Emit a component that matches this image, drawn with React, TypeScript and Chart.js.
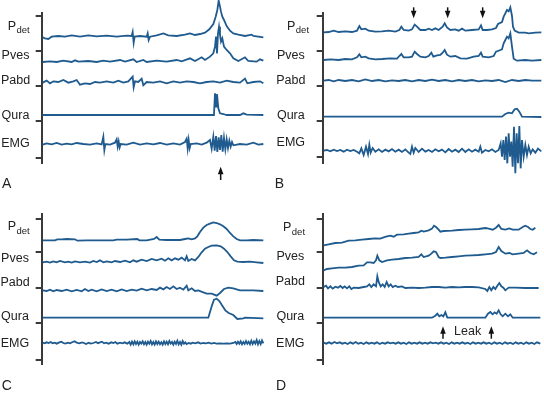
import React, { useEffect, useRef } from "react";
import { Chart, registerables } from "chart.js";
Chart.register(...registerables);

type Pt = [number, number];

// ---------- DATA (x = time units, y = deflection from each trace's resting level) ----------
const TRACE_NAMES = ["Pdet", "Pves", "Pabd", "Qura", "EMG"];

// Panel A
const A_PDET: Pt[] = [[128,-2],[135,-5],[145,-7],[155,0],[175,2],[195,0],[215,4],[240,0],[265,4],[290,1],[320,3],[350,0],[380,3],[395,2],[398,14],[401,-18],[404,0],[420,2],[440,0],[443,10],[446,-10],[450,0],[470,4],[490,10],[505,4],[530,2],[555,6],[570,10],[585,5],[600,8],[615,12],[628,22],[640,38],[647,60],[652,80],[656,108],[660,90],[663,75],[667,60],[672,50],[680,32],[690,18],[700,10],[715,6],[735,2],[755,6],[760,2],[775,0],[790,-2]];
const A_PVES: Pt[] = [[128,-1],[150,1],[170,-1],[190,3],[215,-1],[225,4],[235,0],[265,2],[290,-1],[310,3],[330,0],[360,5],[375,0],[400,7],[410,-1],[430,5],[440,-1],[470,3],[500,0],[530,5],[545,1],[570,10],[585,2],[605,13],[615,5],[630,15],[640,25],[645,45],[648,75],[651,25],[654,85],[657,105],[660,80],[663,60],[667,70],[672,45],[680,35],[690,25],[700,10],[715,2],[735,13],[745,2],[770,0],[780,7],[790,3]];
const A_PABD: Pt[] = [[128,-1],[140,5],[150,-3],[160,3],[175,1],[190,7],[205,-1],[220,3],[230,7],[240,-7],[255,-3],[270,-5],[285,1],[300,-1],[320,3],[340,-1],[355,5],[370,-1],[385,3],[398,17],[401,-15],[405,3],[415,1],[425,11],[430,-9],[440,1],[460,-1],[480,3],[500,-3],[520,3],[540,-1],[560,3],[580,1],[600,-3],[620,1],[640,3],[660,-1],[680,5],[700,1],[720,-1],[735,11],[742,-3],[760,1],[780,3],[790,-3]];
const A_QURA: Pt[] = [[128,0],[640,0],[642,3],[645,65],[648,25],[651,63],[655,20],[660,5],[670,3],[680,0],[720,0],[730,5],[740,1],[790,0]];
const A_EMG: Pt[] = [[128,-2],[140,2],[155,-1],[170,3],[185,-2],[200,1],[215,-1],[230,3],[250,0],[270,-2],[290,2],[305,-1],[310,22],[313,-18],[316,0],[330,-2],[345,4],[350,14],[353,-8],[356,8],[359,-10],[362,0],[380,-2],[400,4],[420,-2],[440,2],[460,-1],[480,3],[500,-2],[520,2],[540,-2],[555,6],[560,16],[563,-14],[566,12],[569,-12],[572,0],[590,2],[605,-2],[620,4],[630,12],[635,-14],[640,22],[644,-20],[648,24],[652,-24],[656,20],[660,-18],[664,27],[668,-23],[672,18],[676,-16],[680,14],[684,-12],[688,10],[692,-8],[696,6],[700,-4],[720,0],[740,-2],[760,4],[775,-2],[790,0]];
const A_ARROWS = [662];

// Panel B
const B_PDET: Pt[] = [[155,0],[170,1],[185,5],[200,1],[220,3],[240,1],[255,5],[262,19],[268,9],[280,11],[290,5],[310,2],[330,3],[350,5],[370,2],[382,7],[388,17],[395,7],[410,5],[420,9],[428,23],[435,17],[445,7],[460,7],[470,11],[480,7],[490,12],[500,7],[512,17],[518,27],[525,15],[535,7],[550,9],[560,5],[570,11],[580,5],[600,7],[620,9],[627,21],[632,7],[645,7],[660,9],[672,13],[678,25],[690,31],[695,47],[700,57],[705,67],[710,63],[715,75],[720,49],[723,17],[728,5],[740,-1],[760,-1],[770,-3],[790,-1],[808,0]];
const B_PVES: Pt[] = [[155,0],[175,2],[200,0],[220,3],[240,2],[255,8],[262,17],[268,8],[280,10],[290,5],[310,2],[330,3],[355,5],[375,4],[382,12],[388,18],[395,8],[410,8],[420,10],[428,25],[435,18],[445,10],[460,8],[470,12],[478,22],[484,10],[495,14],[505,15],[512,22],[518,30],[525,16],[535,10],[550,12],[565,5],[585,4],[605,10],[620,12],[627,22],[632,10],[650,8],[665,12],[672,25],[685,30],[690,32],[695,50],[700,60],[705,70],[710,65],[715,80],[720,40],[725,4],[735,-2],[760,0],[780,-2],[808,0]];
const B_PABD: Pt[] = [[155,0],[170,2],[185,-2],[200,2],[220,-1],[240,2],[260,-2],[280,4],[300,-1],[320,2],[340,-2],[360,1],[380,-1],[400,2],[420,-2],[440,2],[460,-1],[480,3],[500,-1],[520,2],[540,-2],[560,2],[580,-1],[600,2],[620,-2],[640,1],[660,-1],[680,2],[700,-4],[720,2],[740,-1],[760,2],[780,0],[808,0]];
const B_QURA: Pt[] = [[155,0],[690,0],[700,8],[710,12],[720,10],[728,22],[735,24],[742,15],[750,0],[808,-1]];
const B_EMG: Pt[] = [[155,0],[165,2],[175,-2],[185,3],[195,-1],[205,2],[215,-3],[225,3],[235,-1],[245,2],[255,-3],[262,-8],[268,7],[275,-13],[282,12],[288,-10],[292,18],[296,-6],[302,8],[310,-3],[320,4],[330,-4],[340,3],[350,-2],[360,5],[370,-3],[380,3],[390,-4],[400,4],[410,-6],[415,-10],[420,12],[425,-6],[430,8],[440,-4],[450,6],[460,-3],[470,2],[480,-4],[490,4],[500,-2],[510,3],[520,-5],[530,5],[540,-3],[550,3],[560,-4],[570,6],[580,-4],[590,4],[600,-3],[610,3],[620,-3],[625,12],[630,-6],[640,2],[650,-2],[660,4],[670,-4],[680,2],[686,22],[690,-18],[694,32],[698,-28],[702,42],[706,-38],[710,52],[714,-18],[718,27],[722,-48],[726,72],[730,-68],[734,52],[738,-38],[742,74],[746,-53],[750,32],[755,-18],[760,17],[765,-13],[770,12],[776,-8],[782,4],[790,-6],[798,6],[808,-2]];
const B_ARROWS = [425, 527, 632];

// Panel C
const C_PDET: Pt[] = [[128,0],[165,0],[172,3],[185,3],[200,4],[225,3],[232,-1],[260,0],[300,0],[340,0],[350,2],[380,2],[412,4],[418,0],[440,0],[462,4],[470,10],[478,2],[500,1],[540,1],[555,4],[565,6],[575,3],[585,6],[592,12],[600,25],[610,38],[620,46],[630,50],[640,54],[650,52],[660,48],[670,42],[680,34],[690,22],[700,12],[710,4],[720,0],[740,0],[760,1],[790,0]];
const C_PVES: Pt[] = [[128,-1],[140,1],[150,-2],[160,2],[170,-1],[180,3],[195,-1],[205,1],[215,-2],[225,2],[240,-1],[255,1],[270,-2],[280,3],[290,0],[300,5],[310,-1],[320,2],[335,-1],[345,3],[360,0],[375,4],[390,-1],[400,5],[410,1],[425,7],[440,3],[455,9],[470,5],[485,10],[495,4],[505,11],[515,5],[525,11],[535,7],[545,13],[555,5],[560,17],[565,3],[575,9],[585,5],[595,15],[605,29],[615,40],[625,45],[635,49],[650,50],[662,47],[672,40],[682,30],[692,17],[702,5],[712,1],[730,0],[750,1],[770,-1],[790,-3]];
const C_PABD: Pt[] = [[128,0],[140,-2],[150,2],[160,-3],[170,1],[185,-2],[200,2],[215,-3],[230,1],[245,-3],[255,4],[265,-2],[275,2],[290,-3],[305,3],[320,-2],[335,2],[350,-3],[365,3],[380,-2],[395,2],[410,-1],[425,5],[440,0],[455,4],[470,1],[480,8],[490,3],[500,10],[510,4],[520,12],[530,4],[540,8],[550,2],[560,14],[565,0],[575,6],[585,-2],[595,0],[610,-6],[620,-10],[635,-10],[650,-16],[660,-8],[672,4],[685,8],[700,6],[720,0],[740,0],[760,0],[790,-2]];
const C_QURA: Pt[] = [[128,0],[625,0],[630,17],[636,37],[642,54],[650,57],[658,50],[666,37],[676,22],[686,14],[700,8],[712,-4],[730,-2],[735,0],[790,-2]];
const C_EMG: Pt[] = [[128,1],[134,-1],[140,2],[146,0],[152,3],[158,-1],[164,1],[170,-2],[178,2],[184,4],[190,0],[196,-2],[204,1],[210,-1],[218,3],[224,5],[230,1],[238,-1],[246,2],[252,0],[258,-3],[266,1],[272,-2],[280,0],[288,3],[294,-1],[300,2],[306,4],[312,-1],[318,1],[326,-2],[334,2],[340,0],[346,3],[352,-2],[360,1],[368,-1],[374,2],[382,-2],[388,3],[392,-5],[396,4],[400,-4],[404,5],[408,-3],[412,4],[416,-5],[420,3],[424,-2],[428,5],[432,-4],[436,3],[440,-5],[444,4],[448,-2],[452,6],[456,-4],[460,3],[464,-5],[468,5],[472,-3],[476,4],[480,-4],[484,2],[488,-5],[492,5],[496,-3],[500,4],[504,-4],[508,6],[512,-2],[516,3],[520,-5],[524,4],[528,-3],[532,7],[536,-4],[540,3],[544,-5],[548,6],[552,-2],[556,2],[560,-3],[566,0],[572,-2],[578,1],[586,-1],[594,2],[602,-2],[610,0],[618,-1],[626,1],[634,-2],[642,0],[650,-2],[660,-1],[670,-2],[680,-1],[690,-2],[700,0],[706,3],[710,-3],[714,4],[718,-2],[722,5],[726,-4],[730,3],[734,-3],[738,6],[742,-2],[746,4],[750,-4],[754,7],[758,-3],[762,5],[766,-2],[770,9],[774,-4],[778,6],[782,-3],[786,8],[790,-1]];

// Panel D
const D_PDET: Pt[] = [[155,0],[170,3],[190,7],[210,8],[230,14],[250,15],[270,17],[290,19],[310,21],[325,20],[335,24],[345,27],[355,29],[365,26],[375,32],[395,33],[410,35],[425,37],[440,39],[448,44],[455,41],[470,45],[480,50],[486,59],[492,55],[500,47],[505,41],[515,43],[540,44],[560,46],[580,47],[600,48],[620,49],[640,52],[650,50],[662,47],[672,53],[680,61],[688,49],[700,47],[712,51],[722,47],[740,47],[752,55],[760,59],[768,55],[775,49],[782,47],[790,53]];
const D_PVES: Pt[] = [[155,0],[165,4],[180,6],[200,8],[220,8],[240,10],[260,14],[275,15],[285,24],[295,24],[305,22],[312,30],[316,44],[322,30],[330,25],[345,30],[360,32],[380,34],[400,37],[420,38],[440,40],[448,48],[455,40],[470,44],[478,50],[485,57],[492,55],[500,40],[505,37],[520,38],[540,40],[560,42],[580,44],[600,45],[620,46],[640,48],[660,50],[672,55],[680,70],[688,58],[700,50],[712,52],[722,48],[740,50],[755,52],[765,60],[775,52],[785,48],[795,54]];
const D_PABD: Pt[] = [[155,2],[162,6],[168,-2],[175,4],[182,-3],[190,3],[198,0],[205,5],[212,-1],[218,4],[225,-2],[232,4],[238,-4],[245,0],[260,-1],[275,2],[285,4],[292,10],[298,2],[305,10],[312,4],[316,34],[320,17],[326,4],[332,10],[338,2],[344,17],[350,4],[356,10],[362,2],[370,6],[378,2],[390,4],[400,-1],[420,0],[440,-1],[460,0],[480,2],[500,2],[520,0],[540,2],[560,1],[580,2],[600,2],[620,1],[640,-4],[646,-10],[652,2],[658,-8],[664,2],[670,-4],[676,6],[682,14],[688,4],[694,0],[700,-8],[710,0],[730,0],[760,-1],[800,-1]];
const D_QURA: Pt[] = [[155,0],[480,0],[490,6],[496,12],[502,4],[508,8],[514,4],[520,16],[526,0],[640,0],[648,12],[655,17],[662,10],[668,16],[674,12],[680,22],[686,10],[692,4],[700,12],[708,4],[715,10],[722,0],[805,0]];
const D_EMG: Pt[] = [[155,1],[163,-2],[171,2],[179,-2],[187,3],[195,-1],[203,2],[211,-2],[219,1],[227,-3],[235,2],[243,-2],[251,3],[259,-2],[267,1],[275,-3],[283,2],[291,-2],[299,1],[307,-2],[315,2],[323,-3],[331,1],[339,-2],[347,2],[355,-1],[363,1],[371,-2],[379,2],[387,-2],[395,1],[403,-3],[411,2],[419,-2],[427,1],[435,-2],[443,2],[451,-2],[459,1],[467,-2],[475,2],[483,-1],[491,1],[499,-2],[507,2],[515,-2],[523,1],[531,-3],[539,2],[547,-2],[555,1],[563,-2],[571,2],[579,-2],[587,1],[595,-3],[603,2],[611,-2],[619,1],[627,-2],[635,2],[643,-2],[651,1],[659,-3],[667,2],[675,-2],[683,1],[691,-3],[699,2],[707,-2],[715,1],[723,-3],[731,2],[739,-2],[747,1],[755,-3],[763,2],[771,-2],[779,1],[787,-3],[795,2],[805,-2]];
const D_ARROWS = [513, 658];
const D_NOTE = "Leak";

// ---------- LAYOUT ----------
interface Panel {
  letter: string; left: number; top: number;
  xMin: number; xMax: number; yTop3: number; yBot3: number;
  traces: Pt[][]; offsets: number[]; ticks: number[]; labelVals: number[];
  labelX: number; pdetX: number; letterX: number; letterY: number;
  arrows: number[]; arrowFrom: number; arrowTo: number;
  note?: string; noteX?: number; noteY?: number;
}

const PANELS: Panel[] = [
  { letter: "A", left: 0, top: 0, xMin: 125, xMax: 790, yTop3: 40, yBot3: 488,
    traces: [A_PDET, A_PVES, A_PABD, A_QURA, A_EMG], offsets: [378, 303, 241, 143, 56],
    ticks: [440, 336, 230, 126, 13], labelVals: [409, 321, 245, 140, 57],
    labelX: 15.5, pdetX: 18.7, letterX: 2, letterY: 188,
    arrows: A_ARROWS, arrowFrom: -52, arrowTo: -12 },
  { letter: "B", left: 272, top: 0, xMin: 152, xMax: 808, yTop3: 40, yBot3: 490,
    traces: [B_PDET, B_PVES, B_PABD, B_QURA, B_EMG], offsets: [393, 310, 248, 140, 38],
    ticks: [442, 338, 232, 128, 18], labelVals: [410, 323, 247, 142, 61],
    labelX: 18.8, pdetX: 26, letterX: 2.7, letterY: 188,
    arrows: B_ARROWS, arrowFrom: 468, arrowTo: 435 },
  { letter: "C", left: 0, top: 197, xMin: 125, xMax: 790, yTop3: 52, yBot3: 500,
    traces: [C_PDET, C_PVES, C_PABD, C_QURA, C_EMG], offsets: [370, 305, 220, 138, 62],
    ticks: [435, 335, 228, 123, 12], labelVals: [410, 316, 243, 142, 61],
    labelX: 15, pdetX: 18.7, letterX: 1.7, letterY: 193,
    arrows: [], arrowFrom: 0, arrowTo: 0 },
  { letter: "D", left: 272, top: 197, xMin: 152, xMax: 805, yTop3: 52, yBot3: 500,
    traces: [D_PDET, D_PVES, D_PABD, D_QURA, D_EMG], offsets: [355, 280, 228, 138, 62],
    ticks: [435, 335, 228, 123, 12], labelVals: [407, 320, 245, 142, 60],
    labelX: 18.3, pdetX: 22, letterX: 4, letterY: 193,
    arrows: D_ARROWS, arrowFrom: 75, arrowTo: 112, note: D_NOTE, noteX: 587, noteY: 95 },
];

const W = 272, H = 197, TICK = 6;
const LINE = "#1f5b8f";
const INK = "#222";
const FONT = '"Liberation Sans", Arial, Helvetica, sans-serif';
const LABEL_PX = 12.5;

function drawArrow(ctx: CanvasRenderingContext2D, x: number, yTail: number, yTip: number) {
  const dir = Math.sign(yTip - yTail);
  ctx.strokeStyle = "#111";
  ctx.fillStyle = "#111";
  ctx.lineWidth = 1.5;
  ctx.beginPath();
  ctx.moveTo(x, yTail);
  ctx.lineTo(x, yTip - dir * 5);
  ctx.stroke();
  ctx.beginPath();
  ctx.moveTo(x, yTip);
  ctx.lineTo(x - 2.8, yTip - dir * 7.5);
  ctx.lineTo(x + 2.8, yTip - dir * 7.5);
  ctx.closePath();
  ctx.fill();
}

function PanelChart({ p }: { p: Panel }) {
  const ref = useRef<HTMLCanvasElement>(null);
  useEffect(() => {
    if (!ref.current) return;
    const decor = {
      id: "decor" + p.letter,
      afterDraw(chart: any) {
        const ctx: CanvasRenderingContext2D = chart.ctx;
        const xs = chart.scales.x, ys = chart.scales.y;
        ctx.save();
        ctx.fillStyle = INK;
        ctx.textBaseline = "middle";
        TRACE_NAMES.forEach((name, i) => {
          const y = ys.getPixelForValue(p.labelVals[i]);
          if (name === "Pdet") {
            ctx.font = LABEL_PX + "px " + FONT;
            const wP = ctx.measureText("P").width;
            ctx.font = "9.5px " + FONT;
            const wD = ctx.measureText("det").width;
            const x0 = p.pdetX - (wP + wD + 0.5) / 2;
            ctx.textAlign = "left";
            ctx.font = LABEL_PX + "px " + FONT;
            ctx.fillText("P", x0, y);
            ctx.font = "9.5px " + FONT;
            ctx.fillText("det", x0 + wP + 0.5, y + 4);
          } else {
            ctx.font = LABEL_PX + "px " + FONT;
            ctx.textAlign = "center";
            ctx.fillText(name, p.labelX, y);
          }
        });
        ctx.font = "14px " + FONT;
        ctx.textAlign = "left";
        ctx.textBaseline = "alphabetic";
        ctx.fillText(p.letter, p.letterX, p.letterY);
        p.arrows.forEach((ax) => {
          drawArrow(ctx, xs.getPixelForValue(ax), ys.getPixelForValue(p.arrowFrom), ys.getPixelForValue(p.arrowTo));
        });
        if (p.note) {
          ctx.fillStyle = INK;
          ctx.font = LABEL_PX + "px " + FONT;
          ctx.textAlign = "center";
          ctx.textBaseline = "middle";
          ctx.fillText(p.note, xs.getPixelForValue(p.noteX), ys.getPixelForValue(p.noteY));
        }
        ctx.restore();
      },
    };
    const chart = new Chart(ref.current, {
      type: "line",
      data: {
        datasets: p.traces.map((tr, i) => ({
          label: TRACE_NAMES[i],
          data: tr.map(([x, v]) => ({ x, y: p.offsets[i] + v })),
          borderColor: LINE,
          borderWidth: 1.8,
          pointRadius: 0,
          tension: 0,
          fill: false,
          clip: false as any,
        })),
      },
      options: {
        responsive: false,
        animation: false,
        devicePixelRatio: 1,
        events: [],
        layout: {
          padding: {
            left: p.xMin / 3 - TICK,
            right: W - p.xMax / 3,
            top: p.yTop3 / 3,
            bottom: H - p.yBot3 / 3,
          },
        },
        plugins: { legend: { display: false }, tooltip: { enabled: false } },
        scales: {
          x: { type: "linear", min: p.xMin, max: p.xMax, display: false },
          y: {
            type: "linear",
            min: 0,
            max: p.yBot3 - p.yTop3,
            afterBuildTicks: (s: any) => { s.ticks = p.ticks.map((v) => ({ value: v })); },
            ticks: { display: false },
            grid: { drawOnChartArea: false, drawTicks: true, tickLength: TICK, color: "#3a3a3a", lineWidth: 2 },
            border: { display: true, color: "#3a3a3a", width: 2 },
          },
        },
      },
      plugins: [decor],
    } as any);
    return () => chart.destroy();
  }, [p]);
  return (
    <canvas ref={ref} width={W} height={H}
      style={{ position: "absolute", left: p.left, top: p.top, width: W, height: H }} />
  );
}

export default function App() {
  return (
    <div style={{ position: "fixed", left: 0, top: 0, width: 544, height: 394, background: "#fff" }}>
      {PANELS.map((p) => <PanelChart key={p.letter} p={p} />)}
    </div>
  );
}
